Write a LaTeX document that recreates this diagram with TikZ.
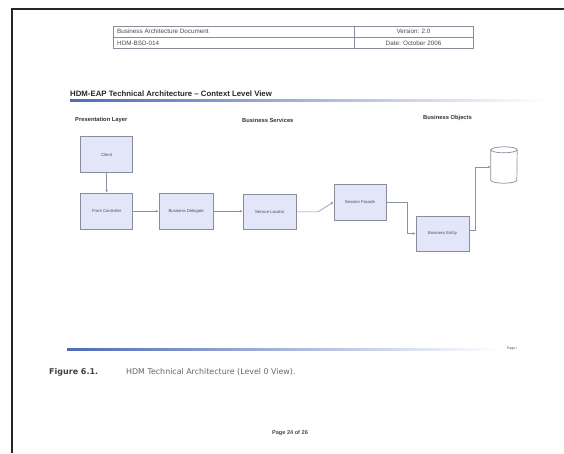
\documentclass[tikz,border=0pt]{standalone}
\usepackage{fontspec}
\setmainfont{Liberation Sans}
\newfontfamily\capfont{DejaVu Sans}
\usepackage{xcolor}
\usetikzlibrary{arrows.meta}

\definecolor{boxfill}{HTML}{E3E6F8}
\definecolor{boxline}{HTML}{8A8C99}
\definecolor{connline}{HTML}{8E90A4}
\definecolor{txtgray}{HTML}{4A4A4A}
\definecolor{lineblue}{HTML}{4F6BB8}

\begin{document}
\begin{tikzpicture}[x=1pt,y=-1pt,
    comp/.style={draw=boxline, line width=0.8pt, fill=boxfill, minimum width=52, minimum height=36, inner sep=0pt, align=center, text=txtgray, font=\fontsize{4.2}{5}\selectfont},
    conn/.style={draw=connline, line width=0.6pt, -{Latex[length=3pt,width=2.6pt]}},
    hdr/.style={text=txtgray, inner sep=0pt, font=\fontsize{6.3}{7}\selectfont},
    layer/.style={text=black!80, inner sep=0pt, anchor=west, font=\fontsize{5.8}{7}\selectfont\bfseries}]

    \useasboundingbox[fill=white] (0,0) rectangle (564,453);

    % page edge of the scan
    \draw[black!85, line width=1.4pt] (12,453) -- (12,9) -- (564,9);

    % header table
    \draw[boxline, line width=0.7pt] (113,26) rectangle (473,48);
    \draw[boxline, line width=0.7pt] (113,37) -- (473,37);
    \draw[boxline, line width=0.7pt] (354,26) -- (354,48);
    \draw (117,31.5) node [hdr, anchor=west] (doctitle) {Business Architecture Document};
    \draw (117,43) node [hdr, anchor=west] (docid) {HDM-BSD-014};
    \draw (413.5,31.5) node [hdr] (version) {Version: 2.0};
    \draw (413.5,43) node [hdr] (date) {Date: October 2006};

    % title and rule
    \draw (70,94) node [anchor=west, inner sep=0pt, text=black!85, font=\fontsize{7.8}{9}\selectfont\bfseries] (title) {HDM-EAP Technical Architecture -- Context Level View};
    \shade[left color=lineblue, middle color=lineblue!55, right color=white] (70,99.6) rectangle (546,101.6);

    \draw (75,119.5) node [layer] (pres) {Presentation Layer};
    \draw (242,120.5) node [layer] (bsvc) {Business Services};
    \draw (423,118) node [layer] (bobj) {Business Objects};

    % components
    \draw (106.7,154.7) node [comp] (client) {Client};
    \draw (106.7,211.2) node [comp] (fctrl) {Front Controller};
    \draw (186.2,211.2) node [comp, minimum width=54] (bdel) {Business Delegate};
    \draw (269.7,211.8) node [comp, minimum width=53, minimum height=35] (sloc) {Service Locator};
    \draw (360,202) node [comp] (sfac) {Session Facade};
    \draw (442.5,233.5) node [comp, minimum width=53, minimum height=35] (bent) {Business Entity};

    % data store
    \draw (504,165) node [minimum width=26, minimum height=36, inner sep=0pt] (db) {};
    \draw[boxline, line width=0.7pt, fill=white] ([yshift=-3pt]db.north west) -- ([yshift=3pt]db.south west)
        arc[start angle=180, end angle=360, x radius=13pt, y radius=3pt] -- ([yshift=-3pt]db.north east)
        arc[start angle=0, end angle=180, x radius=13pt, y radius=3pt] -- cycle;
    \draw[boxline, line width=0.7pt] ([yshift=-3pt]db.north west)
        arc[start angle=180, end angle=360, x radius=13pt, y radius=3pt];

    % connectors
    \coordinate (slbend) at (318,211.8);
    \draw[conn] (client) -- (fctrl);
    \draw[conn] (fctrl) -- (bdel);
    \draw[conn] (bdel.east) -- (sloc.west |- bdel.east);
    \draw[conn] (sloc.east) -- (slbend) -- (sfac.west);
    \draw[conn] (sfac.east) -- ++(21,0) |- (bent.west);
    \draw[conn] ([yshift=3pt]bent.east) -- ++(6,0) |- ([yshift=-2pt]db.west);

    % footer
    \shade[left color=lineblue, middle color=lineblue!50, right color=white] (67,348) rectangle (500,350);
    \draw (512,348.5) node [inner sep=0pt, text=txtgray, font=\fontsize{3.5}{4}\selectfont] (pgmark) {Page i};
    \draw (49,372) node [anchor=west, inner sep=0pt, text=black!75, font=\capfont\fontsize{8}{9}\selectfont\bfseries] (fignum) {Figure 6.1.};
    \draw (126,372) node [anchor=west, inner sep=0pt, text=black!60, font=\capfont\fontsize{7.9}{9}\selectfont] (figcap) {HDM Technical Architecture (Level 0 View).};
    \draw (290,433) node [inner sep=0pt, text=txtgray, font=\fontsize{5.6}{7}\selectfont\bfseries] (pageno) {Page 24 of 26};

\end{tikzpicture}
\end{document}
